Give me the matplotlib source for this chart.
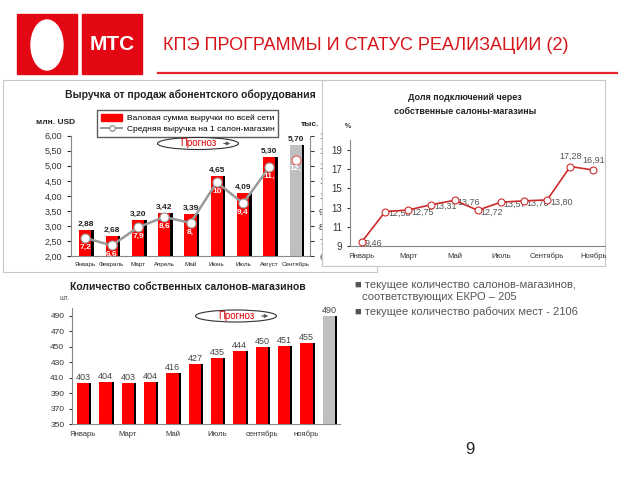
import numpy as np
import matplotlib
matplotlib.use('Agg')
import matplotlib.pyplot as plt
from matplotlib.patches import Rectangle, Ellipse
from matplotlib.lines import Line2D

plt.rcParams['font.family'] = ['Liberation Sans', 'DejaVu Sans']

W, H = 640, 480
RED = '#FF0000'
MTS_RED = '#E30613'

# revenue chart
rev_months = ['Январь', 'Февраль', 'Март', 'Апрель', 'Май', 'Июнь', 'Июль', 'Август', 'Сентябрь']
rev_total = [2.88, 2.68, 3.20, 3.42, 3.39, 4.65, 4.09, 5.30, 5.70]
rev_total_text = ['2,88', '2,68', '3,20', '3,42', '3,39', '4,65', '4,09', '5,30', '5,70']
rev_avg = [7.2, 6.7, 7.9, 8.6, 8.2, 10.9, 9.5, 11.9, 12.4]
rev_avg_text = ['7,2', '6,6', '7,9', '8,6', '8,', '10', '9,4', '11,', '12,']
rev_left_ticks = [2.0, 2.5, 3.0, 3.5, 4.0, 4.5, 5.0, 5.5, 6.0]
rev_right_ticks = [6, 7, 8, 9, 10, 11, 12, 13, 14]
# right axis labels are cut off by the neighbouring chart on the slide
rev_right_text = ['6,', '7,', '8,', '9,', '1(', '1:', '1:', '1:', '14']

# share of connections
share_months = ['Январь', 'Февраль', 'Март', 'Апрель', 'Май', 'Июнь', 'Июль',
                'Август', 'Сентябрь', 'Октябрь', 'Ноябрь']
share = [9.46, 12.58, 12.75, 13.31, 13.76, 12.72, 13.57, 13.70, 13.80, 17.28, 16.91]
share_text = ['9,46', '12,58', '12,75', '13,31', '13,76', '12,72', '13,57', '13,70', '13,80', '17,28', '16,91']

# own shops count
shop_months = ['Январь', 'Февраль', 'Март', 'Апрель', 'Май', 'Июнь', 'Июль',
               'Август', 'сентябрь', 'октябрь', 'ноябрь', 'декабрь']
shops = [403, 404, 403, 404, 416, 427, 435, 444, 450, 451, 455, 490]


def px_axes(fig, x0, y0, x1, y1, **kw):
    return fig.add_axes([x0 / W, 1 - y1 / H, (x1 - x0) / W, (y1 - y0) / H], **kw)


def frame_axes(fig, x0, y0, x1, y1):
    a = px_axes(fig, x0, y0, x1, y1)
    a.set_xticks([])
    a.set_yticks([])
    for s in a.spines.values():
        s.set_color('#C8C8C8')
        s.set_linewidth(0.8)
    return a


def style_spines(ax, sides=('left', 'bottom')):
    for k, s in ax.spines.items():
        if k in sides:
            s.set_color('#888888')
            s.set_linewidth(0.8)
        else:
            s.set_visible(False)


fig = plt.figure(figsize=(6.4, 4.8), dpi=100)

# chart 1 ------------------------------------------------------------
frame_axes(fig, 3, 80, 377, 272)
ax1 = px_axes(fig, 71, 135.7, 310, 256)
ax1.patch.set_alpha(0)
x1 = np.arange(len(rev_months))
cols1 = [RED] * (len(rev_months) - 1) + ['#BFBFBF']
ax1.bar(x1 + 0.1, rev_total, 0.46, color='black', zorder=2)
ax1.bar(x1, rev_total, 0.46, color=cols1, zorder=3)
for i, v in enumerate(rev_total):
    ax1.text(i, v + 0.07, rev_total_text[i], ha='center', va='bottom',
             fontsize=6, fontweight='bold', color='#222222')
ax1.set_xlim(-0.55, 8.55)
ax1.set_ylim(2, 6)
ax1.set_yticks(rev_left_ticks)
ax1.set_yticklabels([('%.2f' % t).replace('.', ',') for t in rev_left_ticks])
ax1.set_xticks(x1)
ax1.set_xticklabels(rev_months)
ax1.tick_params(axis='x', length=0, labelsize=4.5, pad=4, colors='#222222')
ax1.tick_params(axis='y', length=3, labelsize=6.5, colors='#333333', direction='out')
style_spines(ax1)

ax1r = ax1.twinx()
ax1r.set_ylim(6, 14)
ax1r.set_yticks(rev_right_ticks)
ax1r.set_yticklabels(rev_right_text)
ax1r.tick_params(axis='y', length=3, labelsize=6.5, colors='#333333')
style_spines(ax1r, sides=('right',))
ax1r.plot(x1[:-1], rev_avg[:-1], color='#999999', lw=1.8, marker='o', ms=6.5,
          mfc='white', mec='#999999', mew=0.8, zorder=5)
ax1r.plot(x1[-1:], rev_avg[-1:], ls='none', marker='o', ms=6.5,
          mfc='white', mec='#E06666', mew=0.9, zorder=5)
for i, v in enumerate(rev_avg):
    ax1r.text(i, v - 0.6, rev_avg_text[i], ha='center', va='center',
              fontsize=6, fontweight='bold', color='white', zorder=6)

handles = [Rectangle((0, 0), 1, 1, color=RED),
           Line2D([], [], color='#999999', lw=1.4, marker='o', ms=4, mfc='white', mec='#999999')]
ax1.legend(handles, ['Валовая сумма выручки по всей сети', 'Средняя выручка на 1 салон-магазин'],
           loc='upper left', bbox_to_anchor=(97 / W, 1 - 110 / H), bbox_transform=fig.transFigure,
           fontsize=6, frameon=True, fancybox=False, edgecolor='#333333', borderpad=0.45,
           handlelength=2.6, handleheight=0.9, labelspacing=0.35, handletextpad=0.5,
           borderaxespad=0)

# chart 2 ------------------------------------------------------------
f2 = frame_axes(fig, 322, 80, 605, 266)
f2.patch.set_facecolor('white')
ax2 = px_axes(fig, 350, 140.4, 605, 246)
ax2.patch.set_alpha(0)
x2 = np.arange(len(share_months))
ax2.plot(x2, share, color='#CC2B2B', lw=1.2, marker='o', ms=5,
         mfc='white', mec='#CC2B2B', mew=0.8, zorder=4)
for i, v in enumerate(share):
    if i >= 9:
        ax2.annotate(share_text[i], (i, v), xytext=(0, 4), textcoords='offset points',
                     ha='center', va='bottom', fontsize=6.5, color='#555555')
    else:
        ax2.annotate(share_text[i], (i, v), xytext=(2, -1.5), textcoords='offset points',
                     ha='left', va='center', fontsize=6.5, color='#555555')
ax2.set_xlim(-0.52, 10.5)
ax2.set_ylim(9, 20)
ax2.set_yticks([9, 11, 13, 15, 17, 19])
ax2.set_xticks(x2[::2])
ax2.set_xticklabels(share_months[::2])
ax2.tick_params(axis='x', length=0, labelsize=5.5, pad=5, colors='#333333')
ax2.tick_params(axis='y', length=2, labelsize=7, colors='#333333')
style_spines(ax2)

# chart 3 ------------------------------------------------------------
ax3 = px_axes(fig, 72, 308, 340, 424)
ax3.patch.set_alpha(0)
x3 = np.arange(len(shop_months))
cols3 = [RED] * (len(shops) - 1) + ['#BFBFBF']
ax3.bar(x3 + 0.1, shops, 0.54, color='black', zorder=2)
ax3.bar(x3, shops, 0.54, color=cols3, zorder=3)
for i, v in enumerate(shops):
    ax3.text(i, v + 1.5, str(v), ha='center', va='bottom', fontsize=6.5, color='#444444')
ax3.set_xlim(-0.5, 11.5)
ax3.set_ylim(350, 500)
ax3.set_yticks(np.arange(350, 491, 20))
ax3.set_xticks(x3[::2])
ax3.set_xticklabels(shop_months[::2])
ax3.tick_params(axis='x', length=0, labelsize=5.5, pad=5, colors='#333333')
ax3.tick_params(axis='y', length=2, labelsize=6, colors='#333333')
style_spines(ax3)

# slide overlay ------------------------------------------------------
ov = fig.add_axes([0, 0, 1, 1])
ov.set_xlim(0, W)
ov.set_ylim(H, 0)
ov.axis('off')
ov.patch.set_alpha(0)

ov.add_patch(Rectangle((17, 14), 60, 60, color=MTS_RED))
ov.add_patch(Rectangle((82, 14), 60, 60, color=MTS_RED))
ov.add_patch(Ellipse((47, 45), 32, 50, color='white'))
ov.text(112, 44, 'МТС', ha='center', va='center', color='white', fontsize=15, fontweight='bold')
ov.text(163, 45, 'КПЭ ПРОГРАММЫ И СТАТУС РЕАЛИЗАЦИИ (2)', ha='left', va='center',
        color='#D7141A', fontsize=13)
ov.plot([158, 617], [73, 73], color='#E3262B', lw=1.6)

ov.text(190, 95, 'Выручка от продаж абонентского оборудования', ha='center', va='center',
        fontsize=7.5, fontweight='bold', color='#222222')
ov.text(56, 123, 'млн. USD', ha='center', va='center', fontsize=6, fontweight='bold', color='#222222')
ov.text(310, 125, 'тыс.', ha='center', va='center', fontsize=6, fontweight='bold', color='#222222')

ov.text(465, 97, 'Доля подключений через', ha='center', va='center',
        fontsize=6.5, fontweight='bold', color='#222222')
ov.text(465, 111, 'собственные салоны-магазины', ha='center', va='center',
        fontsize=6.5, fontweight='bold', color='#222222')
ov.text(348, 126, '%', ha='center', va='center', fontsize=5, fontweight='bold', color='#333333')

ov.text(188, 287, 'Количество собственных салонов-магазинов', ha='center', va='center',
        fontsize=7.5, fontweight='bold', color='#222222')
ov.text(65, 299, 'шт.', ha='center', va='center', fontsize=5, color='#555555')

for cx, cy in [(198, 143.5), (236, 316)]:
    ov.add_patch(Ellipse((cx, cy), 81, 12, facecolor='white', edgecolor='#333333', lw=0.8, zorder=3))
    ov.text(cx, cy, 'Прогноз', ha='center', va='center', color='#E00000', fontsize=7, zorder=4)
    ov.annotate('', xy=(cx + 35, cy), xytext=(cx + 23, cy),
                arrowprops=dict(arrowstyle='-|>', color='#555555', lw=0.8, mutation_scale=5), zorder=4)

ov.text(355, 285, '■ текущее количество салонов-магазинов,', ha='left', va='center',
        fontsize=8, color='#555555')
ov.text(362, 297, 'соответствующих ЕКРО – 205', ha='left', va='center',
        fontsize=8, color='#555555')
ov.text(355, 312, '■ текущее количество рабочих мест - 2106', ha='left', va='center',
        fontsize=8, color='#555555')

ov.text(470, 450, '9', ha='center', va='center', fontsize=12, color='#222222')

fig.savefig('out.png', dpi=100)
